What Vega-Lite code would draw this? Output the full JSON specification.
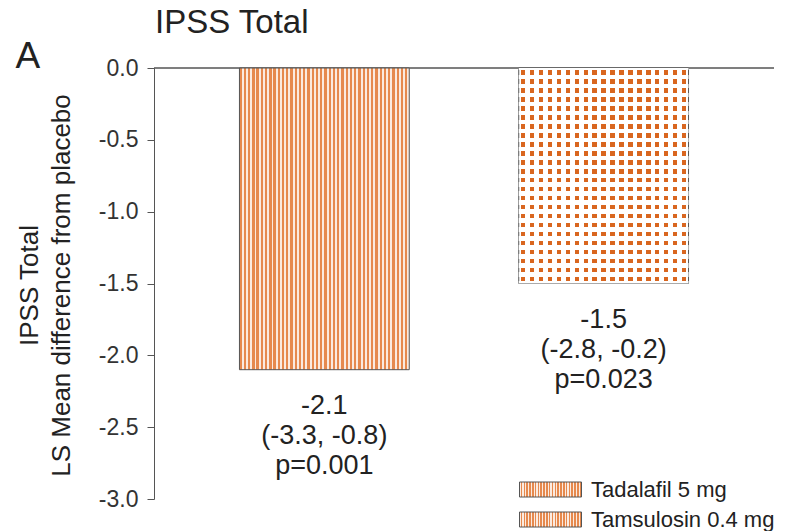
{
  "$schema": "https://vega.github.io/schema/vega-lite/v6.json",
  "width": 620,
  "height": 431,
  "autosize": {"type": "none"},
  "padding": {"left": 154, "top": 68, "right": 15, "bottom": 32},
  "background": "white",
  "config": {
    "font": "Liberation Sans",
    "view": {"stroke": null}
  },
  "title": {
    "text": "IPSS Total",
    "anchor": "start",
    "frame": "group",
    "fontSize": 33,
    "fontWeight": "normal",
    "color": "#222",
    "dx": 1,
    "dy": 5,
    "offset": 2
  },
  "data": {
    "values": [
      {"drug": "Tadalafil 5 mg", "diff": -2.1, "label": ["-2.1", "(-3.3, -0.8)", "p=0.001"]},
      {"drug": "Tamsulosin 0.4 mg", "diff": -1.5, "label": ["-1.5", "(-2.8, -0.2)", "p=0.023"]}
    ]
  },
  "encoding": {
    "x": {
      "field": "drug",
      "type": "nominal",
      "scale": {"domain": ["Tadalafil 5 mg", "Tamsulosin 0.4 mg"], "paddingInner": 0.392, "paddingOuter": 0.306},
      "axis": {
        "orient": "top",
        "domain": false,
        "ticks": false,
        "labels": false,
        "title": "A",
        "titleFontSize": 37,
        "titleFontWeight": "normal",
        "titleColor": "#222",
        "titleX": -139,
        "titleY": -1,
        "titleAlign": "left",
        "titleBaseline": "alphabetic",
        "titleAngle": 0
      }
    },
    "y": {
      "field": "diff",
      "type": "quantitative",
      "scale": {"domain": [-3, 0], "nice": false, "zero": true},
      "axis": {
        "values": [-3, -2.5, -2, -1.5, -1, -0.5, 0],
        "format": ".1f",
        "labelExpr": "replace(datum.label, '\u2212', '-')",
        "labelFontSize": 23,
        "labelColor": "#333",
        "labelPadding": 9,
        "tickSize": 7,
        "tickColor": "#555",
        "domainColor": "#555",
        "grid": false,
        "title": ["IPSS Total", "LS Mean difference from placebo"],
        "titleFontSize": 26,
        "titleFontWeight": "normal",
        "titleColor": "#222",
        "titleLineHeight": 32,
        "titleAngle": -90,
        "titleAlign": "center",
        "titleBaseline": "top",
        "titleX": -138,
        "titleY": 217
      }
    }
  },
  "layer": [
    {
      "mark": {"type": "rule", "color": "#555", "strokeWidth": 1},
      "encoding": {"y": {"datum": 0}, "x": {"value": 0}, "x2": {"value": 620}}
    },
    {
      "transform": [{"filter": "datum.drug === 'Tadalafil 5 mg'"}],
      "mark": {
        "type": "bar",
        "strokeWidth": 1,
        "fill": {
          "id": "tadBar",
          "gradient": "linear", "x1": 0, "y1": 0, "x2": 1, "y2": 0,
          "stops": [
            {"offset": 0, "color": "#e6894d"}, {"offset": 0.01375, "color": "#e6894d"}, {"offset": 0.01375, "color": "#fbeadf"}, {"offset": 0.025, "color": "#fbeadf"},
            {"offset": 0.025, "color": "#e6894d"}, {"offset": 0.03875, "color": "#e6894d"}, {"offset": 0.03875, "color": "#fbeadf"}, {"offset": 0.05, "color": "#fbeadf"},
            {"offset": 0.05, "color": "#e6894d"}, {"offset": 0.06375, "color": "#e6894d"}, {"offset": 0.06375, "color": "#fbeadf"}, {"offset": 0.075, "color": "#fbeadf"},
            {"offset": 0.075, "color": "#e6894d"}, {"offset": 0.08875, "color": "#e6894d"}, {"offset": 0.08875, "color": "#fbeadf"}, {"offset": 0.1, "color": "#fbeadf"},
            {"offset": 0.1, "color": "#e6894d"}, {"offset": 0.11375, "color": "#e6894d"}, {"offset": 0.11375, "color": "#fbeadf"}, {"offset": 0.125, "color": "#fbeadf"},
            {"offset": 0.125, "color": "#e6894d"}, {"offset": 0.13875, "color": "#e6894d"}, {"offset": 0.13875, "color": "#fbeadf"}, {"offset": 0.15, "color": "#fbeadf"},
            {"offset": 0.15, "color": "#e6894d"}, {"offset": 0.16375, "color": "#e6894d"}, {"offset": 0.16375, "color": "#fbeadf"}, {"offset": 0.175, "color": "#fbeadf"},
            {"offset": 0.175, "color": "#e6894d"}, {"offset": 0.18875, "color": "#e6894d"}, {"offset": 0.18875, "color": "#fbeadf"}, {"offset": 0.2, "color": "#fbeadf"},
            {"offset": 0.2, "color": "#e6894d"}, {"offset": 0.21375, "color": "#e6894d"}, {"offset": 0.21375, "color": "#fbeadf"}, {"offset": 0.225, "color": "#fbeadf"},
            {"offset": 0.225, "color": "#e6894d"}, {"offset": 0.23875, "color": "#e6894d"}, {"offset": 0.23875, "color": "#fbeadf"}, {"offset": 0.25, "color": "#fbeadf"},
            {"offset": 0.25, "color": "#e6894d"}, {"offset": 0.26375, "color": "#e6894d"}, {"offset": 0.26375, "color": "#fbeadf"}, {"offset": 0.275, "color": "#fbeadf"},
            {"offset": 0.275, "color": "#e6894d"}, {"offset": 0.28875, "color": "#e6894d"}, {"offset": 0.28875, "color": "#fbeadf"}, {"offset": 0.3, "color": "#fbeadf"},
            {"offset": 0.3, "color": "#e6894d"}, {"offset": 0.31375, "color": "#e6894d"}, {"offset": 0.31375, "color": "#fbeadf"}, {"offset": 0.325, "color": "#fbeadf"},
            {"offset": 0.325, "color": "#e6894d"}, {"offset": 0.33875, "color": "#e6894d"}, {"offset": 0.33875, "color": "#fbeadf"}, {"offset": 0.35, "color": "#fbeadf"},
            {"offset": 0.35, "color": "#e6894d"}, {"offset": 0.36375, "color": "#e6894d"}, {"offset": 0.36375, "color": "#fbeadf"}, {"offset": 0.375, "color": "#fbeadf"},
            {"offset": 0.375, "color": "#e6894d"}, {"offset": 0.38875, "color": "#e6894d"}, {"offset": 0.38875, "color": "#fbeadf"}, {"offset": 0.4, "color": "#fbeadf"},
            {"offset": 0.4, "color": "#e6894d"}, {"offset": 0.41375, "color": "#e6894d"}, {"offset": 0.41375, "color": "#fbeadf"}, {"offset": 0.425, "color": "#fbeadf"},
            {"offset": 0.425, "color": "#e6894d"}, {"offset": 0.43875, "color": "#e6894d"}, {"offset": 0.43875, "color": "#fbeadf"}, {"offset": 0.45, "color": "#fbeadf"},
            {"offset": 0.45, "color": "#e6894d"}, {"offset": 0.46375, "color": "#e6894d"}, {"offset": 0.46375, "color": "#fbeadf"}, {"offset": 0.475, "color": "#fbeadf"},
            {"offset": 0.475, "color": "#e6894d"}, {"offset": 0.48875, "color": "#e6894d"}, {"offset": 0.48875, "color": "#fbeadf"}, {"offset": 0.5, "color": "#fbeadf"},
            {"offset": 0.5, "color": "#e6894d"}, {"offset": 0.51375, "color": "#e6894d"}, {"offset": 0.51375, "color": "#fbeadf"}, {"offset": 0.525, "color": "#fbeadf"},
            {"offset": 0.525, "color": "#e6894d"}, {"offset": 0.53875, "color": "#e6894d"}, {"offset": 0.53875, "color": "#fbeadf"}, {"offset": 0.55, "color": "#fbeadf"},
            {"offset": 0.55, "color": "#e6894d"}, {"offset": 0.56375, "color": "#e6894d"}, {"offset": 0.56375, "color": "#fbeadf"}, {"offset": 0.575, "color": "#fbeadf"},
            {"offset": 0.575, "color": "#e6894d"}, {"offset": 0.58875, "color": "#e6894d"}, {"offset": 0.58875, "color": "#fbeadf"}, {"offset": 0.6, "color": "#fbeadf"},
            {"offset": 0.6, "color": "#e6894d"}, {"offset": 0.61375, "color": "#e6894d"}, {"offset": 0.61375, "color": "#fbeadf"}, {"offset": 0.625, "color": "#fbeadf"},
            {"offset": 0.625, "color": "#e6894d"}, {"offset": 0.63875, "color": "#e6894d"}, {"offset": 0.63875, "color": "#fbeadf"}, {"offset": 0.65, "color": "#fbeadf"},
            {"offset": 0.65, "color": "#e6894d"}, {"offset": 0.66375, "color": "#e6894d"}, {"offset": 0.66375, "color": "#fbeadf"}, {"offset": 0.675, "color": "#fbeadf"},
            {"offset": 0.675, "color": "#e6894d"}, {"offset": 0.68875, "color": "#e6894d"}, {"offset": 0.68875, "color": "#fbeadf"}, {"offset": 0.7, "color": "#fbeadf"},
            {"offset": 0.7, "color": "#e6894d"}, {"offset": 0.71375, "color": "#e6894d"}, {"offset": 0.71375, "color": "#fbeadf"}, {"offset": 0.725, "color": "#fbeadf"},
            {"offset": 0.725, "color": "#e6894d"}, {"offset": 0.73875, "color": "#e6894d"}, {"offset": 0.73875, "color": "#fbeadf"}, {"offset": 0.75, "color": "#fbeadf"},
            {"offset": 0.75, "color": "#e6894d"}, {"offset": 0.76375, "color": "#e6894d"}, {"offset": 0.76375, "color": "#fbeadf"}, {"offset": 0.775, "color": "#fbeadf"},
            {"offset": 0.775, "color": "#e6894d"}, {"offset": 0.78875, "color": "#e6894d"}, {"offset": 0.78875, "color": "#fbeadf"}, {"offset": 0.8, "color": "#fbeadf"},
            {"offset": 0.8, "color": "#e6894d"}, {"offset": 0.81375, "color": "#e6894d"}, {"offset": 0.81375, "color": "#fbeadf"}, {"offset": 0.825, "color": "#fbeadf"},
            {"offset": 0.825, "color": "#e6894d"}, {"offset": 0.83875, "color": "#e6894d"}, {"offset": 0.83875, "color": "#fbeadf"}, {"offset": 0.85, "color": "#fbeadf"},
            {"offset": 0.85, "color": "#e6894d"}, {"offset": 0.86375, "color": "#e6894d"}, {"offset": 0.86375, "color": "#fbeadf"}, {"offset": 0.875, "color": "#fbeadf"},
            {"offset": 0.875, "color": "#e6894d"}, {"offset": 0.88875, "color": "#e6894d"}, {"offset": 0.88875, "color": "#fbeadf"}, {"offset": 0.9, "color": "#fbeadf"},
            {"offset": 0.9, "color": "#e6894d"}, {"offset": 0.91375, "color": "#e6894d"}, {"offset": 0.91375, "color": "#fbeadf"}, {"offset": 0.925, "color": "#fbeadf"},
            {"offset": 0.925, "color": "#e6894d"}, {"offset": 0.93875, "color": "#e6894d"}, {"offset": 0.93875, "color": "#fbeadf"}, {"offset": 0.95, "color": "#fbeadf"},
            {"offset": 0.95, "color": "#e6894d"}, {"offset": 0.96375, "color": "#e6894d"}, {"offset": 0.96375, "color": "#fbeadf"}, {"offset": 0.975, "color": "#fbeadf"},
            {"offset": 0.975, "color": "#e6894d"}, {"offset": 0.98875, "color": "#e6894d"}, {"offset": 0.98875, "color": "#fbeadf"}, {"offset": 1, "color": "#fbeadf"}
          ]
        }
      },
      "encoding": {
        "stroke": {
          "field": "drug",
          "type": "nominal",
          "scale": {"domain": ["Tadalafil 5 mg", "Tamsulosin 0.4 mg"], "range": ["#555555", "#555555"]},
          "legend": {
            "title": null,
            "orient": "none",
            "legendX": 383.5,
            "legendY": 408.5,
            "padding": 0,
            "labelFontSize": 22,
            "labelColor": "#222",
            "labelOffset": 27.5,
            "labelLimit": 400,
            "rowPadding": 6,
            "symbolType": "M-2.48,-0.6H2.48V0.6H-2.48Z",
            "symbolSize": 625,
            "symbolStrokeWidth": 1,
            "symbolOpacity": 1,
            "encode": {
              "symbols": {
                "update": {
                  "fill": {
                    "signal": "datum.value === 'Tamsulosin 0.4 mg' ? '#f2bf9c' : {gradient:'linear',x1:0,y1:0,x2:1,y2:0,stops:[{offset:0,color:'#e6894d'},{offset:0.0393,color:'#e6894d'},{offset:0.0393,color:'#fbeadf'},{offset:0.0714,color:'#fbeadf'},{offset:0.0714,color:'#e6894d'},{offset:0.1107,color:'#e6894d'},{offset:0.1107,color:'#fbeadf'},{offset:0.1429,color:'#fbeadf'},{offset:0.1429,color:'#e6894d'},{offset:0.1821,color:'#e6894d'},{offset:0.1821,color:'#fbeadf'},{offset:0.2143,color:'#fbeadf'},{offset:0.2143,color:'#e6894d'},{offset:0.2536,color:'#e6894d'},{offset:0.2536,color:'#fbeadf'},{offset:0.2857,color:'#fbeadf'},{offset:0.2857,color:'#e6894d'},{offset:0.325,color:'#e6894d'},{offset:0.325,color:'#fbeadf'},{offset:0.3571,color:'#fbeadf'},{offset:0.3571,color:'#e6894d'},{offset:0.3964,color:'#e6894d'},{offset:0.3964,color:'#fbeadf'},{offset:0.4286,color:'#fbeadf'},{offset:0.4286,color:'#e6894d'},{offset:0.4679,color:'#e6894d'},{offset:0.4679,color:'#fbeadf'},{offset:0.5,color:'#fbeadf'},{offset:0.5,color:'#e6894d'},{offset:0.5393,color:'#e6894d'},{offset:0.5393,color:'#fbeadf'},{offset:0.5714,color:'#fbeadf'},{offset:0.5714,color:'#e6894d'},{offset:0.6107,color:'#e6894d'},{offset:0.6107,color:'#fbeadf'},{offset:0.6429,color:'#fbeadf'},{offset:0.6429,color:'#e6894d'},{offset:0.6821,color:'#e6894d'},{offset:0.6821,color:'#fbeadf'},{offset:0.7143,color:'#fbeadf'},{offset:0.7143,color:'#e6894d'},{offset:0.7536,color:'#e6894d'},{offset:0.7536,color:'#fbeadf'},{offset:0.7857,color:'#fbeadf'},{offset:0.7857,color:'#e6894d'},{offset:0.825,color:'#e6894d'},{offset:0.825,color:'#fbeadf'},{offset:0.8571,color:'#fbeadf'},{offset:0.8571,color:'#e6894d'},{offset:0.8964,color:'#e6894d'},{offset:0.8964,color:'#fbeadf'},{offset:0.9286,color:'#fbeadf'},{offset:0.9286,color:'#e6894d'},{offset:0.9679,color:'#e6894d'},{offset:0.9679,color:'#fbeadf'},{offset:1,color:'#fbeadf'}]}"
                  }
                }
              }
            }
          }
        }
      }
    },
    {
      "transform": [{"filter": "datum.drug === 'Tamsulosin 0.4 mg'"}],
      "mark": {
        "type": "bar",
        "strokeWidth": 1,
        "fill": {
          "id": "tamV",
          "gradient": "linear", "x1": 0, "y1": 0, "x2": 1, "y2": 0,
          "stops": [
            {"offset": 0, "color": "#ffffff"},
            {"offset": 0.01316, "color": "#ffffff"}, {"offset": 0.01316, "color": "#d9661f"}, {"offset": 0.03947, "color": "#d9661f"}, {"offset": 0.03947, "color": "#ffffff"},
            {"offset": 0.06579, "color": "#ffffff"}, {"offset": 0.06579, "color": "#d9661f"}, {"offset": 0.09211, "color": "#d9661f"}, {"offset": 0.09211, "color": "#ffffff"},
            {"offset": 0.11842, "color": "#ffffff"}, {"offset": 0.11842, "color": "#d9661f"}, {"offset": 0.14474, "color": "#d9661f"}, {"offset": 0.14474, "color": "#ffffff"},
            {"offset": 0.17105, "color": "#ffffff"}, {"offset": 0.17105, "color": "#d9661f"}, {"offset": 0.19737, "color": "#d9661f"}, {"offset": 0.19737, "color": "#ffffff"},
            {"offset": 0.22368, "color": "#ffffff"}, {"offset": 0.22368, "color": "#d9661f"}, {"offset": 0.25, "color": "#d9661f"}, {"offset": 0.25, "color": "#ffffff"},
            {"offset": 0.27632, "color": "#ffffff"}, {"offset": 0.27632, "color": "#d9661f"}, {"offset": 0.30263, "color": "#d9661f"}, {"offset": 0.30263, "color": "#ffffff"},
            {"offset": 0.32895, "color": "#ffffff"}, {"offset": 0.32895, "color": "#d9661f"}, {"offset": 0.35526, "color": "#d9661f"}, {"offset": 0.35526, "color": "#ffffff"},
            {"offset": 0.38158, "color": "#ffffff"}, {"offset": 0.38158, "color": "#d9661f"}, {"offset": 0.40789, "color": "#d9661f"}, {"offset": 0.40789, "color": "#ffffff"},
            {"offset": 0.43421, "color": "#ffffff"}, {"offset": 0.43421, "color": "#d9661f"}, {"offset": 0.46053, "color": "#d9661f"}, {"offset": 0.46053, "color": "#ffffff"},
            {"offset": 0.48684, "color": "#ffffff"}, {"offset": 0.48684, "color": "#d9661f"}, {"offset": 0.51316, "color": "#d9661f"}, {"offset": 0.51316, "color": "#ffffff"},
            {"offset": 0.53947, "color": "#ffffff"}, {"offset": 0.53947, "color": "#d9661f"}, {"offset": 0.56579, "color": "#d9661f"}, {"offset": 0.56579, "color": "#ffffff"},
            {"offset": 0.59211, "color": "#ffffff"}, {"offset": 0.59211, "color": "#d9661f"}, {"offset": 0.61842, "color": "#d9661f"}, {"offset": 0.61842, "color": "#ffffff"},
            {"offset": 0.64474, "color": "#ffffff"}, {"offset": 0.64474, "color": "#d9661f"}, {"offset": 0.67105, "color": "#d9661f"}, {"offset": 0.67105, "color": "#ffffff"},
            {"offset": 0.69737, "color": "#ffffff"}, {"offset": 0.69737, "color": "#d9661f"}, {"offset": 0.72368, "color": "#d9661f"}, {"offset": 0.72368, "color": "#ffffff"},
            {"offset": 0.75, "color": "#ffffff"}, {"offset": 0.75, "color": "#d9661f"}, {"offset": 0.77632, "color": "#d9661f"}, {"offset": 0.77632, "color": "#ffffff"},
            {"offset": 0.80263, "color": "#ffffff"}, {"offset": 0.80263, "color": "#d9661f"}, {"offset": 0.82895, "color": "#d9661f"}, {"offset": 0.82895, "color": "#ffffff"},
            {"offset": 0.85526, "color": "#ffffff"}, {"offset": 0.85526, "color": "#d9661f"}, {"offset": 0.88158, "color": "#d9661f"}, {"offset": 0.88158, "color": "#ffffff"},
            {"offset": 0.90789, "color": "#ffffff"}, {"offset": 0.90789, "color": "#d9661f"}, {"offset": 0.93421, "color": "#d9661f"}, {"offset": 0.93421, "color": "#ffffff"},
            {"offset": 0.96053, "color": "#ffffff"}, {"offset": 0.96053, "color": "#d9661f"}, {"offset": 0.98684, "color": "#d9661f"}, {"offset": 0.98684, "color": "#ffffff"},
            {"offset": 1, "color": "#ffffff"}
          ]
        }
      },
      "encoding": {
        "stroke": {"field": "drug", "type": "nominal"}
      }
    },
    {
      "transform": [{"filter": "datum.drug === 'Tamsulosin 0.4 mg'"}],
      "mark": {
        "type": "bar",
        "strokeWidth": 0,
        "fill": {
          "id": "tamH",
          "gradient": "linear", "x1": 0, "y1": 0, "x2": 0, "y2": 1,
          "stops": [
            {"offset": 0, "color": "#ffffff"},
            {"offset": 0.01042, "color": "#ffffff"}, {"offset": 0.01042, "color": "rgba(255,255,255,0)"}, {"offset": 0.03125, "color": "rgba(255,255,255,0)"}, {"offset": 0.03125, "color": "#ffffff"},
            {"offset": 0.05208, "color": "#ffffff"}, {"offset": 0.05208, "color": "rgba(255,255,255,0)"}, {"offset": 0.07292, "color": "rgba(255,255,255,0)"}, {"offset": 0.07292, "color": "#ffffff"},
            {"offset": 0.09375, "color": "#ffffff"}, {"offset": 0.09375, "color": "rgba(255,255,255,0)"}, {"offset": 0.11458, "color": "rgba(255,255,255,0)"}, {"offset": 0.11458, "color": "#ffffff"},
            {"offset": 0.13542, "color": "#ffffff"}, {"offset": 0.13542, "color": "rgba(255,255,255,0)"}, {"offset": 0.15625, "color": "rgba(255,255,255,0)"}, {"offset": 0.15625, "color": "#ffffff"},
            {"offset": 0.17708, "color": "#ffffff"}, {"offset": 0.17708, "color": "rgba(255,255,255,0)"}, {"offset": 0.19792, "color": "rgba(255,255,255,0)"}, {"offset": 0.19792, "color": "#ffffff"},
            {"offset": 0.21875, "color": "#ffffff"}, {"offset": 0.21875, "color": "rgba(255,255,255,0)"}, {"offset": 0.23958, "color": "rgba(255,255,255,0)"}, {"offset": 0.23958, "color": "#ffffff"},
            {"offset": 0.26042, "color": "#ffffff"}, {"offset": 0.26042, "color": "rgba(255,255,255,0)"}, {"offset": 0.28125, "color": "rgba(255,255,255,0)"}, {"offset": 0.28125, "color": "#ffffff"},
            {"offset": 0.30208, "color": "#ffffff"}, {"offset": 0.30208, "color": "rgba(255,255,255,0)"}, {"offset": 0.32292, "color": "rgba(255,255,255,0)"}, {"offset": 0.32292, "color": "#ffffff"},
            {"offset": 0.34375, "color": "#ffffff"}, {"offset": 0.34375, "color": "rgba(255,255,255,0)"}, {"offset": 0.36458, "color": "rgba(255,255,255,0)"}, {"offset": 0.36458, "color": "#ffffff"},
            {"offset": 0.38542, "color": "#ffffff"}, {"offset": 0.38542, "color": "rgba(255,255,255,0)"}, {"offset": 0.40625, "color": "rgba(255,255,255,0)"}, {"offset": 0.40625, "color": "#ffffff"},
            {"offset": 0.42708, "color": "#ffffff"}, {"offset": 0.42708, "color": "rgba(255,255,255,0)"}, {"offset": 0.44792, "color": "rgba(255,255,255,0)"}, {"offset": 0.44792, "color": "#ffffff"},
            {"offset": 0.46875, "color": "#ffffff"}, {"offset": 0.46875, "color": "rgba(255,255,255,0)"}, {"offset": 0.48958, "color": "rgba(255,255,255,0)"}, {"offset": 0.48958, "color": "#ffffff"},
            {"offset": 0.51042, "color": "#ffffff"}, {"offset": 0.51042, "color": "rgba(255,255,255,0)"}, {"offset": 0.53125, "color": "rgba(255,255,255,0)"}, {"offset": 0.53125, "color": "#ffffff"},
            {"offset": 0.55208, "color": "#ffffff"}, {"offset": 0.55208, "color": "rgba(255,255,255,0)"}, {"offset": 0.57292, "color": "rgba(255,255,255,0)"}, {"offset": 0.57292, "color": "#ffffff"},
            {"offset": 0.59375, "color": "#ffffff"}, {"offset": 0.59375, "color": "rgba(255,255,255,0)"}, {"offset": 0.61458, "color": "rgba(255,255,255,0)"}, {"offset": 0.61458, "color": "#ffffff"},
            {"offset": 0.63542, "color": "#ffffff"}, {"offset": 0.63542, "color": "rgba(255,255,255,0)"}, {"offset": 0.65625, "color": "rgba(255,255,255,0)"}, {"offset": 0.65625, "color": "#ffffff"},
            {"offset": 0.67708, "color": "#ffffff"}, {"offset": 0.67708, "color": "rgba(255,255,255,0)"}, {"offset": 0.69792, "color": "rgba(255,255,255,0)"}, {"offset": 0.69792, "color": "#ffffff"},
            {"offset": 0.71875, "color": "#ffffff"}, {"offset": 0.71875, "color": "rgba(255,255,255,0)"}, {"offset": 0.73958, "color": "rgba(255,255,255,0)"}, {"offset": 0.73958, "color": "#ffffff"},
            {"offset": 0.76042, "color": "#ffffff"}, {"offset": 0.76042, "color": "rgba(255,255,255,0)"}, {"offset": 0.78125, "color": "rgba(255,255,255,0)"}, {"offset": 0.78125, "color": "#ffffff"},
            {"offset": 0.80208, "color": "#ffffff"}, {"offset": 0.80208, "color": "rgba(255,255,255,0)"}, {"offset": 0.82292, "color": "rgba(255,255,255,0)"}, {"offset": 0.82292, "color": "#ffffff"},
            {"offset": 0.84375, "color": "#ffffff"}, {"offset": 0.84375, "color": "rgba(255,255,255,0)"}, {"offset": 0.86458, "color": "rgba(255,255,255,0)"}, {"offset": 0.86458, "color": "#ffffff"},
            {"offset": 0.88542, "color": "#ffffff"}, {"offset": 0.88542, "color": "rgba(255,255,255,0)"}, {"offset": 0.90625, "color": "rgba(255,255,255,0)"}, {"offset": 0.90625, "color": "#ffffff"},
            {"offset": 0.92708, "color": "#ffffff"}, {"offset": 0.92708, "color": "rgba(255,255,255,0)"}, {"offset": 0.94792, "color": "rgba(255,255,255,0)"}, {"offset": 0.94792, "color": "#ffffff"},
            {"offset": 0.96875, "color": "#ffffff"}, {"offset": 0.96875, "color": "rgba(255,255,255,0)"}, {"offset": 0.98958, "color": "rgba(255,255,255,0)"}, {"offset": 0.98958, "color": "#ffffff"},
            {"offset": 1, "color": "#ffffff"}
          ]
        }
      },
      "encoding": {}
    },
    {
      "mark": {"type": "text", "baseline": "top", "align": "center", "dy": 23, "fontSize": 27, "lineHeight": 30, "color": "#222"},
      "encoding": {"text": {"field": "label", "type": "nominal"}}
    }
  ]
}
